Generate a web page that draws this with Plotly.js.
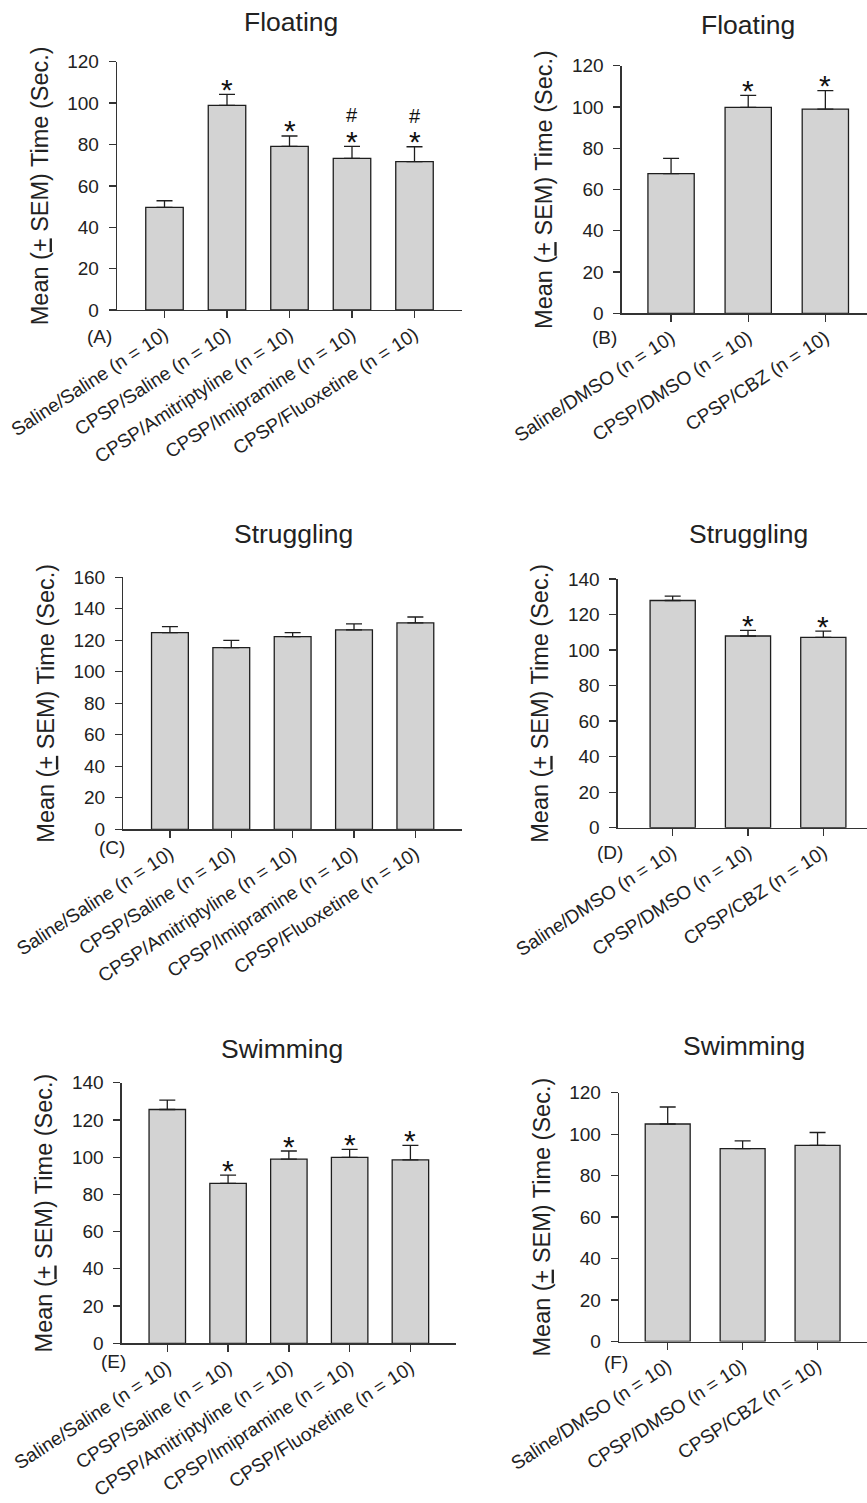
<!DOCTYPE html>
<html><head><meta charset="utf-8">
<script src="https://cdn.plot.ly/plotly-3.0.1.min.js"></script>
<style>html,body{margin:0;padding:0;background:#fff}</style>
</head><body><div id="chart" style="width:867px;height:1503px"></div>
<script>
// ---------------- data ----------------
const groupsAntidep = ['Saline/Saline (n = 10)', 'CPSP/Saline (n = 10)', 'CPSP/Amitriptyline (n = 10)', 'CPSP/Imipramine (n = 10)', 'CPSP/Fluoxetine (n = 10)'];
const groupsCBZ = ['Saline/DMSO (n = 10)', 'CPSP/DMSO (n = 10)', 'CPSP/CBZ (n = 10)'];

const floatingA = [49.6, 98.9, 79.1, 73.3, 71.7];
const floatingA_sem = [3.2, 5.3, 5.0, 5.8, 7.2];
const floatingA_star = ['', '*', '*', '*', '*'];
const floatingA_hash = ['', '', '', '#', '#'];

const floatingB = [67.7, 99.8, 99.0];
const floatingB_sem = [7.4, 5.8, 8.9];
const floatingB_star = ['', '*', '*'];

const strugglingC = [124.9, 115.3, 122.3, 126.6, 131.0];
const strugglingC_sem = [3.8, 4.7, 2.6, 3.8, 3.8];
const strugglingC_star = ['', '', '', '', ''];

const strugglingD = [127.9, 107.9, 107.1];
const strugglingD_sem = [2.5, 3.2, 3.6];
const strugglingD_star = ['', '*', '*'];

const swimmingE = [125.6, 85.9, 98.9, 99.9, 98.5];
const swimmingE_sem = [5.0, 4.4, 4.4, 4.3, 7.8];
const swimmingE_star = ['', '*', '*', '*', '*'];

const swimmingF = [104.9, 93.0, 94.6];
const swimmingF_sem = [8.2, 3.8, 6.2];
const swimmingF_star = ['', '', ''];

const panelTitles = ['Floating', 'Floating', 'Struggling', 'Struggling', 'Swimming', 'Swimming'];
const panelLetters = ['(A)', '(B)', '(C)', '(D)', '(E)', '(F)'];
const yTitle = 'Mean (<u>+</u> SEM) Time (Sec.)';

// ---------------- layout geometry (pixels) ----------------
const W = 867, H = 1503;
const FONT = 'Liberation Sans, Arial, Helvetica, sans-serif';
const panels = [
  {cats: groupsAntidep, vals: floatingA, sem: floatingA_sem, star: floatingA_star, hash: floatingA_hash, ymax: 120,
   box: {l: 117, r: 462, t: 61.7, b: 310}, xr: [-0.76, 4.76], title: [290.5, 22], letter: [99, 336]},
  {cats: groupsCBZ, vals: floatingB, sem: floatingB_sem, star: floatingB_star, ymax: 120,
   box: {l: 621.7, r: 867, t: 65.7, b: 313.3}, xr: [-0.64, 2.54], title: [748, 25], letter: [604, 337]},
  {cats: groupsAntidep, vals: strugglingC, sem: strugglingC_sem, star: strugglingC_star, ymax: 160,
   box: {l: 123.3, r: 462, t: 577.3, b: 829.3}, xr: [-0.76, 4.76], title: [293, 534], letter: [112, 847]},
  {cats: groupsCBZ, vals: strugglingD, sem: strugglingD_sem, star: strugglingD_star, ymax: 140,
   box: {l: 617.7, r: 867, t: 579, b: 827.7}, xr: [-0.73, 2.58], title: [748, 534], letter: [610, 852]},
  {cats: groupsAntidep, vals: swimmingE, sem: swimmingE_sem, star: swimmingE_star, ymax: 140,
   box: {l: 121.7, r: 456, t: 1082.7, b: 1343.3}, xr: [-0.75, 4.75], title: [282, 1049], letter: [114, 1361]},
  {cats: groupsCBZ, vals: swimmingF, sem: swimmingF_sem, star: swimmingF_star, ymax: 120,
   box: {l: 619, r: 867, t: 1092.7, b: 1341.5}, xr: [-0.65, 2.66], title: [743.5, 1046], letter: [616, 1362]}
];

const traces = [];
const layout = {
  width: W, height: H, margin: {l: 0, r: 0, t: 0, b: 0},
  paper_bgcolor: '#fff', plot_bgcolor: 'rgba(0,0,0,0)',
  showlegend: false, bargap: 0.4,
  font: {family: FONT, color: '#222'},
  annotations: []
};

panels.forEach((p, i) => {
  const n = i === 0 ? '' : String(i + 1);
  const xa = 'x' + n, ya = 'y' + n;
  traces.push({
    type: 'bar', x: p.cats, y: p.vals, width: 0.6,
    xaxis: xa, yaxis: ya,
    marker: {color: '#d3d3d3', line: {color: '#1e1e1e', width: 1.3}},
    error_y: {type: 'data', symmetric: false, array: p.sem, arrayminus: p.sem.map(() => 0),
              color: '#1e1e1e', thickness: 1.3, width: 8},
    hoverinfo: 'x+y'
  });
  layout['xaxis' + n] = {
    domain: [p.box.l / W, p.box.r / W], anchor: ya, type: 'category', range: p.xr,
    showline: true, linecolor: '#333', linewidth: 1.3, showgrid: false, zeroline: false,
    ticks: 'outside', ticklen: 7, tickwidth: 1.3, tickcolor: '#333', ticklabelstandoff: -2,
    tickangle: -33, tickfont: {size: 19, color: '#222', family: FONT}, fixedrange: true
  };
  layout['yaxis' + n] = {
    domain: [1 - p.box.b / H, 1 - p.box.t / H], anchor: xa, range: [0, p.ymax], tick0: 0, dtick: 20,
    showline: true, linecolor: '#333', linewidth: 1.3, showgrid: false, zeroline: false,
    ticks: 'outside', ticklen: 7, tickwidth: 1.3, tickcolor: '#333', ticklabelstandoff: 6,
    tickfont: {size: 19, color: '#222', family: FONT}, fixedrange: true,
    title: {text: yTitle, font: {size: 23.5, color: '#222', family: FONT}, standoff: 12}
  };
  // panel title
  layout.annotations.push({text: panelTitles[i], xref: 'paper', yref: 'paper',
    x: p.title[0] / W, y: 1 - p.title[1] / H, xanchor: 'center', yanchor: 'middle',
    showarrow: false, font: {size: 26.5, color: '#222', family: FONT}});
  // panel letter
  layout.annotations.push({text: panelLetters[i], xref: 'paper', yref: 'paper',
    x: p.letter[0] / W, y: 1 - p.letter[1] / H, xanchor: 'center', yanchor: 'middle',
    showarrow: false, font: {size: 19, color: '#222', family: FONT}});
  // significance markers
  p.cats.forEach((c, k) => {
    const top = p.vals[k] + p.sem[k];
    if (p.star[k]) layout.annotations.push({text: p.star[k], xref: xa, yref: ya, x: c, y: top,
      xanchor: 'center', yanchor: 'middle', yshift: 5, showarrow: false,
      font: {size: 30, color: '#111', family: FONT}});
    if (p.hash && p.hash[k]) layout.annotations.push({text: p.hash[k], xref: xa, yref: ya, x: c, y: top,
      xanchor: 'center', yanchor: 'middle', yshift: 31, showarrow: false,
      font: {size: 20, color: '#111', family: FONT}});
  });
});

Plotly.newPlot('chart', traces, layout, {displayModeBar: false, staticPlot: true});
</script>
</body></html>
